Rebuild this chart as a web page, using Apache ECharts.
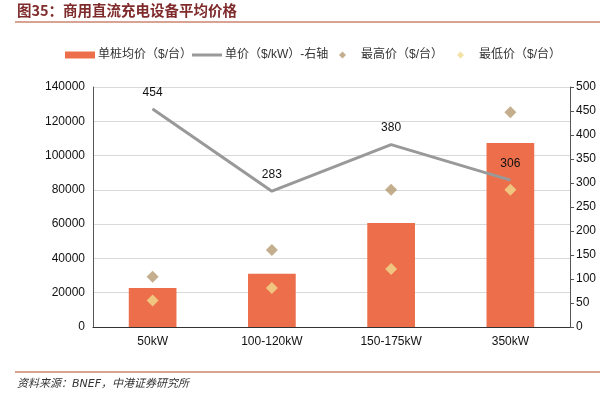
<!DOCTYPE html>
<html><head><meta charset="utf-8">
<script src="https://cdn.jsdelivr.net/npm/echarts@6/dist/echarts.min.js"></script>
<style>html,body{margin:0;padding:0;background:#fff}#c{width:615px;height:395px}</style>
</head><body><div id="c"></div>
<script>
const categories = ['50kW', '100-120kW', '150-175kW', '350kW'];
const avgPrice = [22700, 31000, 60700, 107300];
const unitPrice = [454, 283, 380, 306];
const maxPrice = [29300, 44900, 80100, 125200];
const minPrice = [15500, 22700, 33800, 80100];
const names = ['单桩均价（$/台）', '单价（$/kW）-右轴', '最高价（$/台）', '最低价（$/台）'];

const font = 'Liberation Sans, Arial, "Noto Sans CJK SC", sans-serif';
const chart = echarts.init(document.getElementById('c'));
const legendBase = {top: 44, itemGap: 10, textStyle: {fontSize: 12, color: '#333', fontFamily: font, padding: [0, 0, 0, -2]}, selectedMode: false};
chart.setOption({
  animation: false,
  textStyle: {fontFamily: font},
  graphic: [
    {type: 'text', left: 17, top: 3, style: {text: '图35：商用直流充电设备平均价格', font: 'bold 14.5px "Noto Sans CJK SC"', fill: '#7f2b2b'}},
    {type: 'rect', shape: {x: 15, y: 21, width: 585, height: 2}, style: {fill: '#d9a393'}},
    {type: 'rect', shape: {x: 15, y: 371, width: 585, height: 2}, style: {fill: '#d9a393'}},
    {type: 'text', left: 17, top: 379, style: {text: '资料来源：BNEF，中港证券研究所', font: 'italic 11px "DejaVu Sans", "Noto Sans CJK SC"', fill: '#333'}}
  ],
  legend: [
    Object.assign({}, legendBase, {left: 60, data: [names[0]], itemWidth: 30, itemHeight: 7, icon: 'rect'}),
    Object.assign({}, legendBase, {left: 187, data: [names[1]], itemWidth: 30, itemHeight: 3, icon: 'rect'}),
    Object.assign({}, legendBase, {left: 334, data: [names[2]], itemWidth: 7, itemHeight: 7, icon: 'diamond',
      textStyle: {fontSize: 12, color: '#333', fontFamily: font, padding: [0, 0, 0, 10]}}),
    Object.assign({}, legendBase, {left: 452, data: [names[3]], itemWidth: 7, itemHeight: 7, icon: 'diamond',
      textStyle: {fontSize: 12, color: '#333', fontFamily: font, padding: [0, 0, 0, 10]}})
  ],
  grid: {left: 93, right: 45, top: 87, bottom: 68, containLabel: false},
  xAxis: {
    type: 'category', data: categories, boundaryGap: true,
    axisLine: {lineStyle: {color: '#333'}},
    axisTick: {inside: true, length: 5, lineStyle: {color: '#555'}},
    axisLabel: {fontSize: 12, color: '#111', margin: 9}
  },
  yAxis: [
    {type: 'value', min: 0, max: 140000, interval: 20000,
     axisLine: {show: true, lineStyle: {color: '#555'}}, axisTick: {show: false},
     splitLine: {lineStyle: {color: '#d9d9d9', width: 1}},
     axisLabel: {fontSize: 12, color: '#111', margin: 8, formatter: v => String(v)}},
    {type: 'value', min: 0, max: 500, interval: 50, position: 'right',
     axisLine: {show: true, lineStyle: {color: '#555'}}, axisTick: {show: true, length: 4, lineStyle: {color: '#555'}},
     splitLine: {show: false},
     axisLabel: {fontSize: 12, color: '#111', margin: 6}}
  ],
  series: [
    {name: names[0], type: 'bar', data: avgPrice, barWidth: '40%', itemStyle: {color: '#ec6e4a'}, z: 1},
    {name: names[1], type: 'line', yAxisIndex: 1, data: unitPrice, symbol: 'circle', symbolSize: 1, showSymbol: true,
     lineStyle: {color: '#999999', width: 3}, itemStyle: {color: '#999999'},
     label: {show: true, position: 'top', distance: 10, fontSize: 12, color: '#111'}, z: 3},
    {name: names[2], type: 'scatter', data: maxPrice, symbol: 'diamond', symbolSize: 12, itemStyle: {color: '#b49a72'}, z: 4},
    {name: names[3], type: 'scatter', data: minPrice, symbol: 'diamond', symbolSize: 12, itemStyle: {color: '#f0db8c'}, z: 4}
  ]
});
</script></body></html>
